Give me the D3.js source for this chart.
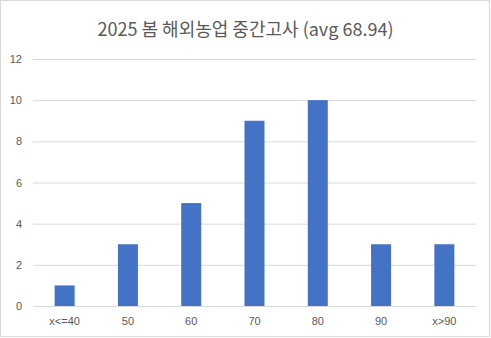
<!DOCTYPE html>
<html><head><meta charset="utf-8">
<script src="https://cdn.jsdelivr.net/npm/d3@7"></script>
<style>html,body{margin:0;padding:0;background:#fff;}svg{display:block;}</style>
</head><body>
<script>
const categories = ["x<=40","50","60","70","80","90","x>90"];
const counts = [1,3,5,9,10,3,3];
const yTicks = [0,2,4,6,8,10,12];
const title = "2025 봄 해외농업 중간고사 (avg 68.94)";

(function(){
const W = 491, H = 338;
const svg = d3.select("body").append("svg").attr("width", W).attr("height", H);
svg.append("rect").attr("x",0.5).attr("y",0.5).attr("width",W-2).attr("height",H-2)
  .attr("fill","#fff").attr("stroke","#d9d9d9");

const mL = 33, mR = 476, mT = 59, mB = 306;
const x = d3.scaleBand().domain(categories).range([mL,mR]).paddingInner(0.684).paddingOuter(0.342);
const y = d3.scaleLinear().domain([0,12]).range([mB,mT]);

svg.append("text").attr("x", W/2).attr("y", 36).attr("text-anchor","middle")
  .attr("font-family","'Noto Sans CJK KR','Noto Sans',sans-serif").attr("font-size",18)
  .attr("fill","#595959").text(title);

const yAxis = svg.append("g").attr("transform",`translate(${mL},0)`)
  .call(d3.axisLeft(y).tickValues(yTicks).tickSize(-(mR-mL)).tickPadding(11));
yAxis.select(".domain").remove();
yAxis.selectAll("line").attr("stroke","#d9d9d9").attr("stroke-width",1);
yAxis.selectAll("text").attr("fill","#595959").attr("font-size",11)
  .attr("font-family","'Liberation Sans','DejaVu Sans',sans-serif");

svg.selectAll("rect.bar").data(counts).join("rect").attr("class","bar")
  .attr("x",(d,i)=>x(categories[i])).attr("width",x.bandwidth())
  .attr("y",d=>y(d)).attr("height",d=>y(0)-y(d)).attr("fill","#4472C4");

const xAxis = svg.append("g").attr("transform",`translate(0,${mB})`)
  .call(d3.axisBottom(x).tickSize(0).tickPadding(11));
xAxis.select(".domain").attr("stroke","#d9d9d9");
xAxis.selectAll("text").attr("fill","#595959").attr("font-size",11)
  .attr("font-family","'Liberation Sans','DejaVu Sans',sans-serif");
})();
</script>
</body></html>
